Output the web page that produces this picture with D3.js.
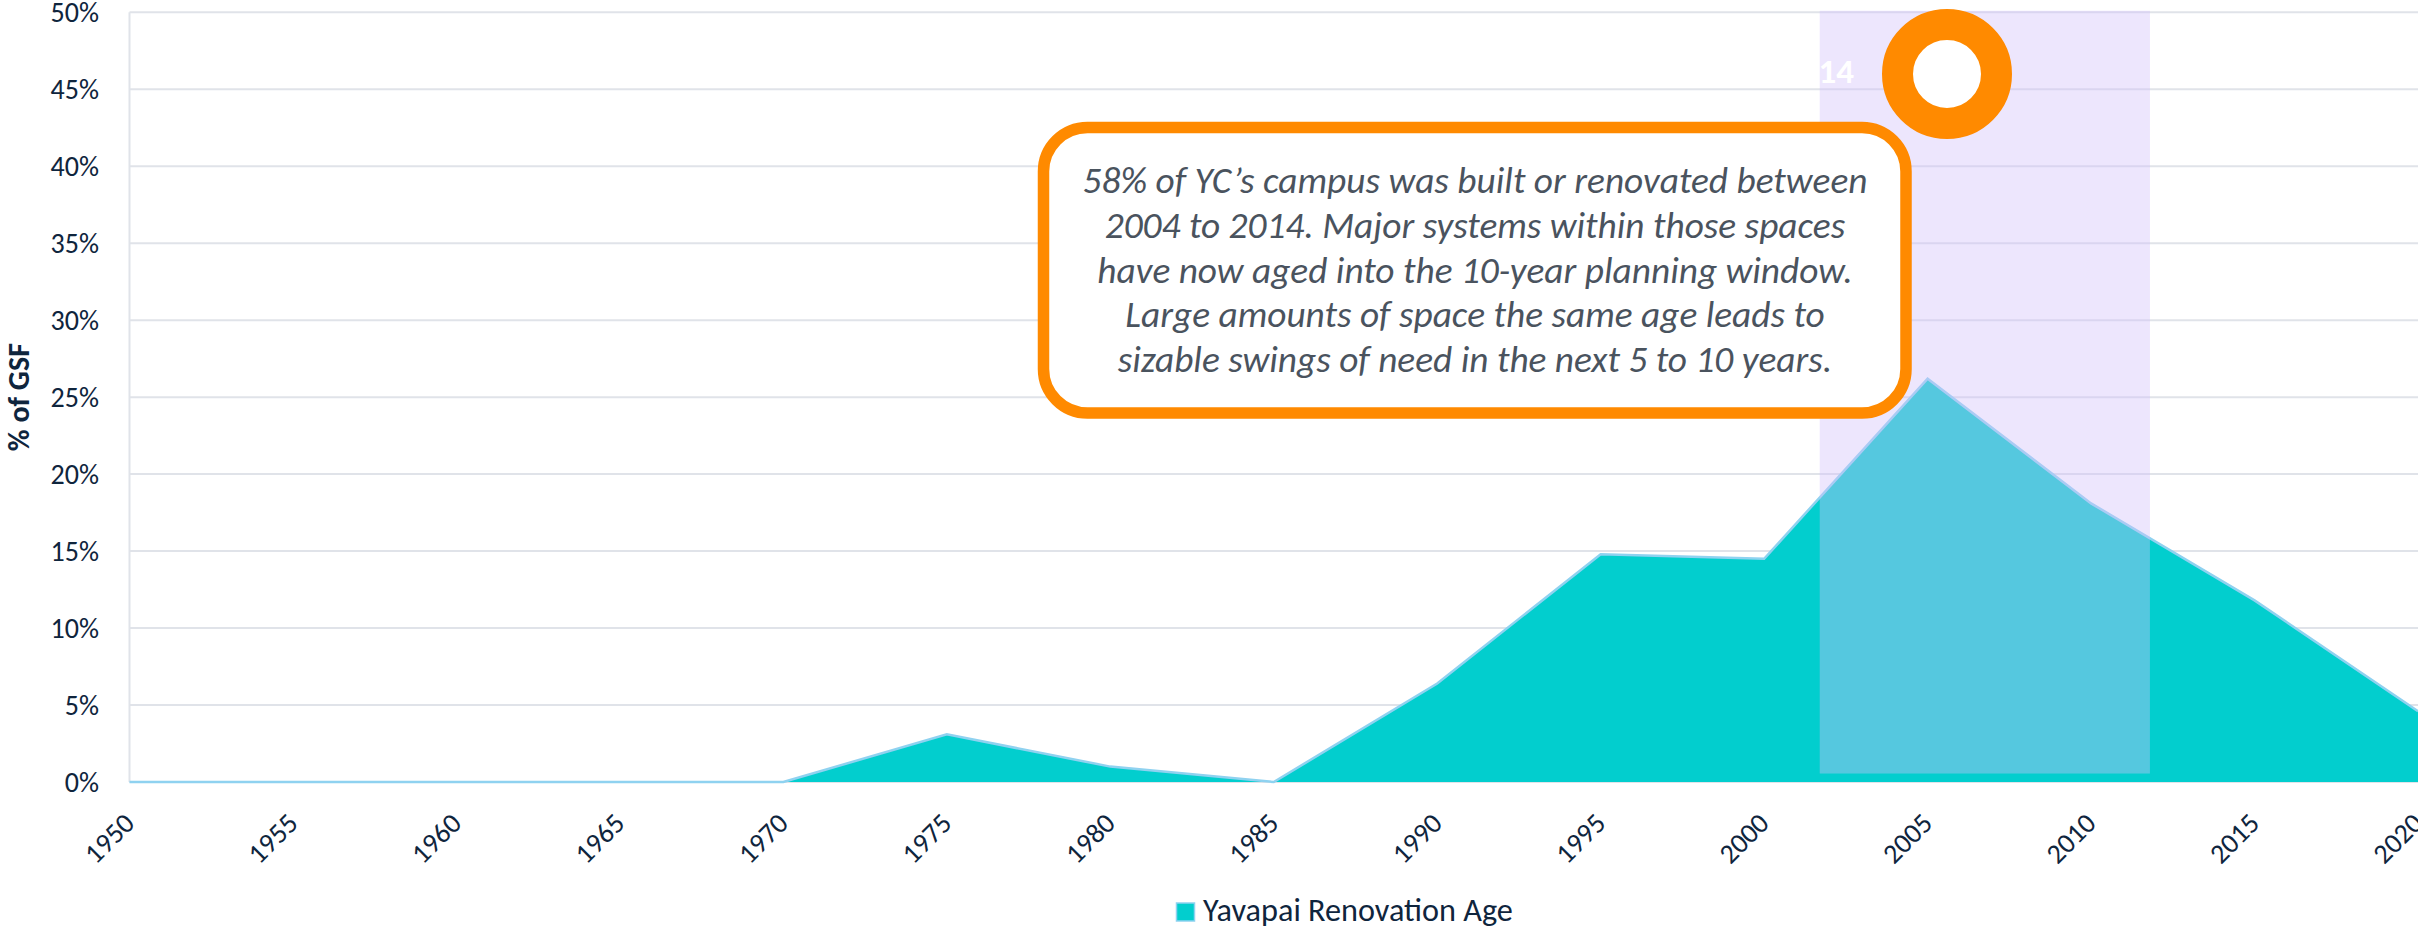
<!DOCTYPE html>
<html>
<head>
<meta charset="utf-8">
<script src="https://cdn.jsdelivr.net/npm/d3@7/dist/d3.min.js"></script>
<style>
  html, body { margin: 0; padding: 0; background: #fff; }
  svg { display: block; font-family: Carlito, Calibri, Lato, "Open Sans", sans-serif; }
</style>
</head>
<body>
<script>
// data
var years = [1950, 1955, 1960, 1965, 1970, 1975, 1980, 1985, 1990, 1995, 2000, 2005, 2010, 2015, 2020];
var renovationPct = [0, 0, 0, 0, 0, 3.1, 1.0, 0, 6.4, 14.8, 14.5, 26.2, 18.1, 11.8, 4.6];
var yTickValues = [0, 5, 10, 15, 20, 25, 30, 35, 40, 45, 50];
var seriesName = "Yavapai Renovation Age";
var yTitle = "% of GSF";
var highlightYears = [2001.7, 2011.8];
var highlightPct = [0.55, 50.1];
var calloutLines = [
  "58% of YC\u2019s campus was built or renovated between",
  "2004 to 2014. Major systems within those spaces",
  "have now aged into the 10-year planning window.",
  "Large amounts of space the same age leads to",
  "sizable swings of need in the next 5 to 10 years."
];
var ringLabel = "2014";

var W = 2418, H = 928;
var margin = {top: 12.3, left: 129.5, bottom: 146, right: 0};

var teal = "#02cece", edge = "#8fd2f0", grid = "#e0e3e9", navy = "#0f253d", orange = "#ff8a00";

var svg = d3.select("body").append("svg").attr("width", W).attr("height", H);

var x = d3.scaleLinear().domain([1950, 2020]).range([margin.left, W - margin.right]);
var y = d3.scaleLinear().domain([0, 50]).range([H - margin.bottom, margin.top]);

var data = years.map(function(d, i){ return {year: d, v: renovationPct[i]}; });

// scale a text's font so it spans the given width
function fitWidth(sel, size, target){
  sel.attr("font-size", size + "px");
  var w = sel.node().getComputedTextLength();
  sel.attr("font-size", (size * target / w) + "px");
}

// gridlines
svg.append("g").selectAll("line").data(yTickValues).enter().append("line")
   .attr("x1", margin.left).attr("x2", W - margin.right)
   .attr("y1", function(d){ return y(d); }).attr("y2", function(d){ return y(d); })
   .attr("stroke", grid).attr("stroke-width", 2);
svg.append("line").attr("x1", margin.left).attr("x2", margin.left)
   .attr("y1", y(50)).attr("y2", y(0)).attr("stroke", grid).attr("stroke-width", 2);

// y tick labels
svg.append("g").selectAll("text").data(yTickValues).enter().append("text")
   .attr("x", 99).attr("y", function(d){ return y(d); }).attr("dy", "0.36em")
   .attr("text-anchor", "end").attr("font-size", "28px").attr("fill", navy)
   .text(function(d){ return d + "%"; });

// x tick labels
svg.append("g").selectAll("text").data(years).enter().append("text")
   .attr("transform", function(d){ return "translate(" + (x(d) + 6.5) + "," + (y(0) + 43) + ") rotate(-45)"; })
   .attr("text-anchor", "end").attr("font-size", "28px").attr("fill", navy)
   .text(function(d){ return d; });

// y title
svg.append("text").attr("transform", "translate(29," + ((y(0) + y(50)) / 2) + ") rotate(-90)")
   .attr("text-anchor", "middle").attr("font-weight", "bold").attr("font-size", "30px")
   .attr("fill", navy).text(yTitle);

// area
var area = d3.area().x(function(d){ return x(d.year); }).y0(y(0)).y1(function(d){ return y(d.v); });
var line = d3.line().x(function(d){ return x(d.year); }).y(function(d){ return y(d.v); });
svg.append("path").datum(data).attr("d", area).attr("fill", teal);
svg.append("path").datum(data).attr("d", line).attr("fill", "none")
   .attr("stroke", edge).attr("stroke-width", 2.5);

// highlight band
svg.append("rect")
   .attr("x", x(highlightYears[0])).attr("width", x(highlightYears[1]) - x(highlightYears[0]))
   .attr("y", y(highlightPct[1])).attr("height", y(highlightPct[0]) - y(highlightPct[1]))
   .attr("fill", "rgb(210,192,250)").attr("fill-opacity", 0.4);

// white label (almost invisible on white)
svg.append("text").attr("x", 1854).attr("y", 83).attr("text-anchor", "end")
   .attr("font-size", "35px").attr("font-weight", "bold").attr("fill", "#fff").text(ringLabel);

// orange ring
svg.append("circle").attr("cx", 1947).attr("cy", 74).attr("r", 49.5)
   .attr("fill", "#fff").attr("stroke", orange).attr("stroke-width", 31);

// callout
svg.append("rect").attr("x", 1043.5).attr("y", 127.5).attr("width", 862.5).attr("height", 285.5)
   .attr("rx", 44).attr("fill", "#fff").attr("stroke", orange).attr("stroke-width", 11.5);
var callout = svg.append("g").selectAll("text").data(calloutLines).enter().append("text")
   .attr("x", 1475).attr("y", function(d, i){ return 193.3 + i * 44.6; })
   .attr("text-anchor", "middle").attr("font-style", "italic").attr("font-size", "34px")
   .attr("fill", "#4a535e").text(function(d){ return d; });
// fit font so the first line matches the reference width
var w0 = callout.node().getComputedTextLength();
callout.attr("font-size", (34 * 785 / w0) + "px");

// legend
svg.append("rect").attr("x", 1176.5).attr("y", 903).attr("width", 18).attr("height", 18)
   .attr("fill", teal).attr("stroke", edge).attr("stroke-width", 1.5);
var legText = svg.append("text").attr("x", 1203).attr("y", 920.5)
   .attr("fill", navy).text(seriesName);
fitWidth(legText, 29, 310);
</script>
</body>
</html>
